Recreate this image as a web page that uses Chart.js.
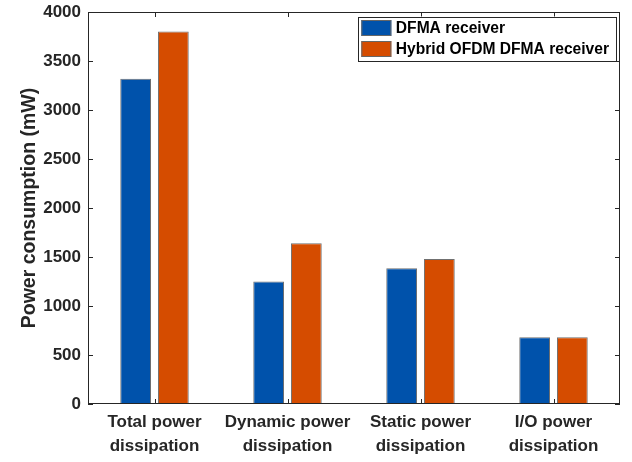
<!DOCTYPE html>
<html>
<head>
<meta charset="utf-8">
<script src="https://cdn.jsdelivr.net/npm/chart.js@4.4.1/dist/chart.umd.min.js"></script>
<style>
  html, body { margin: 0; padding: 0; background: #fff; }
  #wrap { width: 632px; height: 462px; position: relative; }
</style>
</head>
<body>
<div id="wrap"><canvas id="c"></canvas></div>
<script>
const categories = [
  ["Total power", "dissipation"],
  ["Dynamic power", "dissipation"],
  ["Static power", "dissipation"],
  ["I/O power", "dissipation"],
];
const seriesNames = ["DFMA receiver", "Hybrid OFDM DFMA receiver"];
const dfmaValues = [3320, 1250, 1385, 680];
const hybridValues = [3800, 1640, 1480, 680];
const yMin = 0, yMax = 4000, yStep = 500;

const FONT = "'Liberation Sans', Arial, Helvetica, sans-serif";
const INK = "#262626";
const BLUE = "#0052ab";
const ORANGE = "#d54c00";

// box around the axes with inward ticks, like matlab "box on"
const boxPlugin = {
  id: "box",
  afterDraw(chart) {
    const { ctx, chartArea: a } = chart;
    const xs = chart.scales.x, ys = chart.scales.y;
    const tl = 5;
    ctx.save();
    ctx.strokeStyle = INK;
    ctx.lineWidth = 1;
    ctx.strokeRect(a.left + 0.5, a.top + 0.5, a.right - a.left - 1, a.bottom - a.top - 1);
    ctx.beginPath();
    ys.ticks.forEach((t, i) => {
      const y = Math.round(ys.getPixelForTick(i)) + 0.5;
      ctx.moveTo(a.left, y); ctx.lineTo(a.left + tl, y);
      ctx.moveTo(a.right, y); ctx.lineTo(a.right - tl, y);
    });
    xs.ticks.forEach((t, i) => {
      const x = Math.round(xs.getPixelForTick(i)) + 0.5;
      ctx.moveTo(x, a.bottom); ctx.lineTo(x, a.bottom - tl);
      ctx.moveTo(x, a.top); ctx.lineTo(x, a.top + tl);
    });
    ctx.stroke();
    ctx.restore();
  },
};

// legend box in the upper right corner of the plot
const legendBox = {
  id: "legendBox",
  afterDraw(chart) {
    const { ctx, chartArea: a } = chart;
    const sets = chart.data.datasets;
    ctx.save();
    ctx.font = "bold 15.6px " + FONT;
    const textW = Math.max(...sets.map((d) => ctx.measureText(d.label).width));
    const sw = 30, sh = 16, rowH = 21, padL = 3.5, gap = 4.5, padR = 7;
    const w = padL + sw + gap + textW + padR;
    const h = 44;
    const right = a.right - 4, top = a.top + 4.5;
    const left = right - w;
    ctx.fillStyle = "#fff";
    ctx.fillRect(left, top, w, h);
    ctx.strokeStyle = INK;
    ctx.lineWidth = 1;
    ctx.strokeRect(Math.round(left) + 0.5, Math.round(top) + 0.5, Math.round(w), Math.round(h));
    sets.forEach((d, i) => {
      const y = top + 3.5 + i * rowH;
      ctx.fillStyle = d.backgroundColor;
      ctx.fillRect(left + padL, y, sw, sh);
      ctx.strokeStyle = "#666";
      ctx.strokeRect(left + padL + 0.5, y + 0.5, sw - 1, sh - 1);
      ctx.fillStyle = "#000";
      ctx.textBaseline = "middle";
      ctx.textAlign = "left";
      ctx.fillText(d.label, left + padL + sw + gap, y + sh / 2 + 0.5);
    });
    ctx.restore();
  },
};

new Chart(document.getElementById("c"), {
  type: "bar",
  data: {
    labels: categories,
    datasets: [
      {
        label: seriesNames[0],
        data: dfmaValues,
        backgroundColor: BLUE,
        borderColor: "#707070",
        borderWidth: 1,
        borderSkipped: false,
        categoryPercentage: 0.567,
        barPercentage: 0.816,
      },
      {
        label: seriesNames[1],
        data: hybridValues,
        backgroundColor: ORANGE,
        borderColor: "#707070",
        borderWidth: 1,
        borderSkipped: false,
        categoryPercentage: 0.567,
        barPercentage: 0.816,
      },
    ],
  },
  options: {
    responsive: true,
    maintainAspectRatio: false,
    animation: false,
    layout: { padding: { top: 12, right: 12, left: 0, bottom: 0 } },
    plugins: {
      legend: { display: false },
      tooltip: { enabled: false },
    },
    scales: {
      x: {
        grid: { display: false, drawTicks: false },
        border: { display: false },
        ticks: {
          color: INK,
          padding: 7,
          font: { family: FONT, size: 17, weight: "bold", lineHeight: 1.38 },
        },
        afterFit: (s) => { s.height = 58; s.paddingLeft = 0; s.paddingRight = 0; },
      },
      y: {
        min: yMin,
        max: yMax,
        grid: { display: false, drawTicks: false },
        border: { display: false },
        ticks: {
          stepSize: yStep,
          color: INK,
          padding: 7,
          font: { family: FONT, size: 17, weight: "bold" },
          callback: (v) => String(v),
        },
        title: {
          display: true,
          text: "Power consumption (mW)",
          color: INK,
          padding: { top: 18, bottom: 0 },
          font: { family: FONT, size: 19.5, weight: "bold" },
        },
        afterFit: (s) => { s.width = 88; s.paddingTop = 0; s.paddingBottom = 0; },
      },
    },
  },
  plugins: [boxPlugin, legendBox],
});
</script>
</body>
</html>
